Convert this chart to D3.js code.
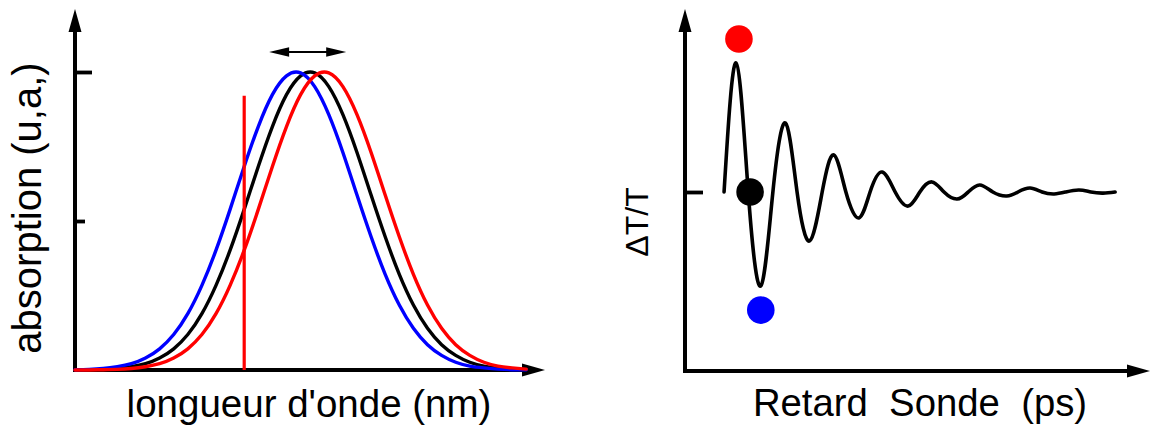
<!DOCTYPE html>
<html><head><meta charset="utf-8">
<script src="https://cdn.jsdelivr.net/npm/d3@7"></script>
<style>body{margin:0;background:#fff} svg{display:block}</style>
</head><body>
<svg id="c" width="1152" height="428"></svg>
<script>
// ---- Left panel data: absorption spectra (arbitrary units) ----
const wavelength = [0,3,6,9,12,15,18,21,24,27,30,33,36,39,42,45,48,51,54,57,60,63,66,69,72,75,78,81,84,87,90,93,96];
const absBlue  = [0.001,0.002,0.005,0.011,0.021,0.040,0.071,0.119,0.189,0.284,0.402,0.539,0.683,0.817,0.924,0.987,0.997,0.951,0.857,0.730,0.587,0.447,0.321,0.218,0.140,0.085,0.049,0.026,0.013,0.007,0.003,0.001,0.001];
const absBlack = [0.000,0.001,0.002,0.005,0.011,0.021,0.040,0.071,0.119,0.189,0.284,0.402,0.539,0.683,0.817,0.924,0.987,0.997,0.951,0.857,0.730,0.587,0.447,0.321,0.218,0.140,0.085,0.049,0.026,0.013,0.007,0.003,0.001];
const absRed   = [0.000,0.000,0.001,0.002,0.005,0.011,0.021,0.040,0.071,0.119,0.189,0.284,0.402,0.539,0.683,0.817,0.924,0.987,0.997,0.951,0.857,0.730,0.587,0.447,0.321,0.218,0.140,0.085,0.049,0.026,0.013,0.007,0.003];
const leftTicks = [0.5, 1];
const probeWavelength = 36;
const probeTop = 0.92;
const shiftArrowX = [41.3, 57.7];
const shiftArrowLevel = 1.067;

// ---- Right panel data: ΔT/T versus probe delay ----
const delay = [8.4,11.0,13.6,16.3,18.9,21.6,24.1,26.8,29.5,32.0,34.6,37.4,39.8,42.4,45.2,48.0,50.5,53.1,55.7,58.5,60.9,63.4,66.2,69.2,71.6,74.2,76.8,79.4,81.9,84.7,87.3,89.9,92.5];
const dTT   = [0,0.717,0,-0.522,0,0.383,0,-0.272,0,0.206,0,-0.144,0,0.111,0,-0.078,0,0.056,0,-0.039,0,0.039,0,-0.022,0,0.022,0,-0.011,0,0.011,0,-0.006,0];
const dotDelay = [11.6, 14.0, 16.3];
const dotValue = [0.85, 0, -0.656];
const dotColor = ["#ff0000", "#000000", "#0000ff"];
const rightTicks = [0];

const xLabelLeft = "longueur d'onde (nm)";
const yLabelLeft = "absorption (u,a,)";
const xLabelRight = "Retard  Sonde  (ps)";
const yLabelRight = "\u0394T/T";

const svg = d3.select("#c");
const FONT = "'Liberation Sans', Arial, sans-serif";

// scales
const xL = d3.scaleLinear().domain([0, 100]).range([75, 545]);
const yL = d3.scaleLinear().domain([0, 1]).range([370, 72]);
const xR = d3.scaleLinear().domain([0, 100]).range([685, 1150]);
const yR = d3.scaleLinear().domain([-1, 1]).range([372, 12]);

function drawAxes(g, x0, y0, xEnd, yTop) {
  const AW = 6.5, AL = 23;
  g.append("line").attr("x1", x0).attr("y1", y0 + 2).attr("x2", x0).attr("y2", yTop + AL - 2)
    .attr("stroke", "#000").attr("stroke-width", 4);
  g.append("path").attr("d", `M${x0},${yTop} L${x0 - AW},${yTop + AL} L${x0 + AW},${yTop + AL} Z`).attr("fill", "#000");
  g.append("line").attr("x1", x0 - 2).attr("y1", y0).attr("x2", xEnd - AL + 2).attr("y2", y0)
    .attr("stroke", "#000").attr("stroke-width", 4);
  g.append("path").attr("d", `M${xEnd},${y0} L${xEnd - AL},${y0 - AW} L${xEnd - AL},${y0 + AW} Z`).attr("fill", "#000");
}

// ---- Left panel ----
const gL = svg.append("g");
drawAxes(gL, 75, 370, 545, 9);
const axL = gL.append("g").attr("transform", "translate(75,0)")
  .call(d3.axisLeft(yL).tickValues(leftTicks).tickSize(-14).tickSizeOuter(0).tickFormat(""));
axL.select(".domain").remove();
axL.selectAll(".tick line").attr("x2", d => d === 1 ? 17 : 10).attr("stroke", "#000").attr("stroke-width", 3.8);

const lineL = d3.line().x((d, i) => xL(wavelength[i])).y(d => yL(Math.max(0, d))).curve(d3.curveNatural);
[[absBlack, "#000000"], [absBlue, "#0000ff"], [absRed, "#ff0000"]].forEach(([s, c]) => {
  gL.append("path").attr("d", lineL(s)).attr("fill", "none").attr("stroke", c)
    .attr("stroke-width", 3.4).attr("stroke-linejoin", "round").attr("stroke-linecap", "round");
});
gL.append("line").attr("x1", xL(probeWavelength)).attr("x2", xL(probeWavelength))
  .attr("y1", yL(0)).attr("y2", yL(probeTop)).attr("stroke", "#ff0000").attr("stroke-width", 3.2);

// double arrow
{
  const ya = yL(shiftArrowLevel), xa = xL(shiftArrowX[0]), xb = xL(shiftArrowX[1]);
  gL.append("line").attr("x1", xa + 10).attr("x2", xb - 10).attr("y1", ya).attr("y2", ya)
    .attr("stroke", "#000").attr("stroke-width", 2);
  gL.append("path").attr("d", `M${xa},${ya} L${xa + 20},${ya - 4.8} L${xa + 20},${ya + 4.8} Z`).attr("fill", "#000");
  gL.append("path").attr("d", `M${xb},${ya} L${xb - 20},${ya - 4.8} L${xb - 20},${ya + 4.8} Z`).attr("fill", "#000");
}

gL.append("text").attr("transform", "translate(41,208) rotate(-90)").attr("text-anchor", "middle")
  .attr("font-family", FONT).attr("font-size", 40).text(yLabelLeft);
gL.append("text").attr("x", 309).attr("y", 417).attr("text-anchor", "middle")
  .attr("font-family", FONT).attr("font-size", 38.5).text(xLabelLeft);

// ---- Right panel ----
const gR = svg.append("g");
drawAxes(gR, 685, 371, 1150, 9);
const axR = gR.append("g").attr("transform", "translate(685,0)")
  .call(d3.axisLeft(yR).tickValues(rightTicks).tickSize(-18).tickSizeOuter(0).tickFormat(""));
axR.select(".domain").remove();
axR.selectAll(".tick line").attr("stroke", "#000").attr("stroke-width", 3.8);

const lineR = d3.line().x((d, i) => xR(delay[i])).y(d => yR(d)).curve(d3.curveNatural);
gR.append("path").attr("d", lineR(dTT)).attr("fill", "none").attr("stroke", "#000")
  .attr("stroke-width", 3.6).attr("stroke-linejoin", "round").attr("stroke-linecap", "round");

gR.selectAll("circle.dot").data(dotDelay).enter().append("circle").attr("class", "dot")
  .attr("cx", d => xR(d)).attr("cy", (d, i) => yR(dotValue[i])).attr("r", 13.8)
  .attr("fill", (d, i) => dotColor[i]);

gR.append("text").attr("transform", "translate(648,222) rotate(-90)").attr("text-anchor", "middle")
  .attr("font-family", FONT).attr("font-size", 32).text(yLabelRight);
gR.append("text").attr("x", 920).attr("y", 416).attr("text-anchor", "middle")
  .attr("font-family", FONT).attr("font-size", 38.3).style("white-space", "pre").text(xLabelRight);
</script>
</body></html>
